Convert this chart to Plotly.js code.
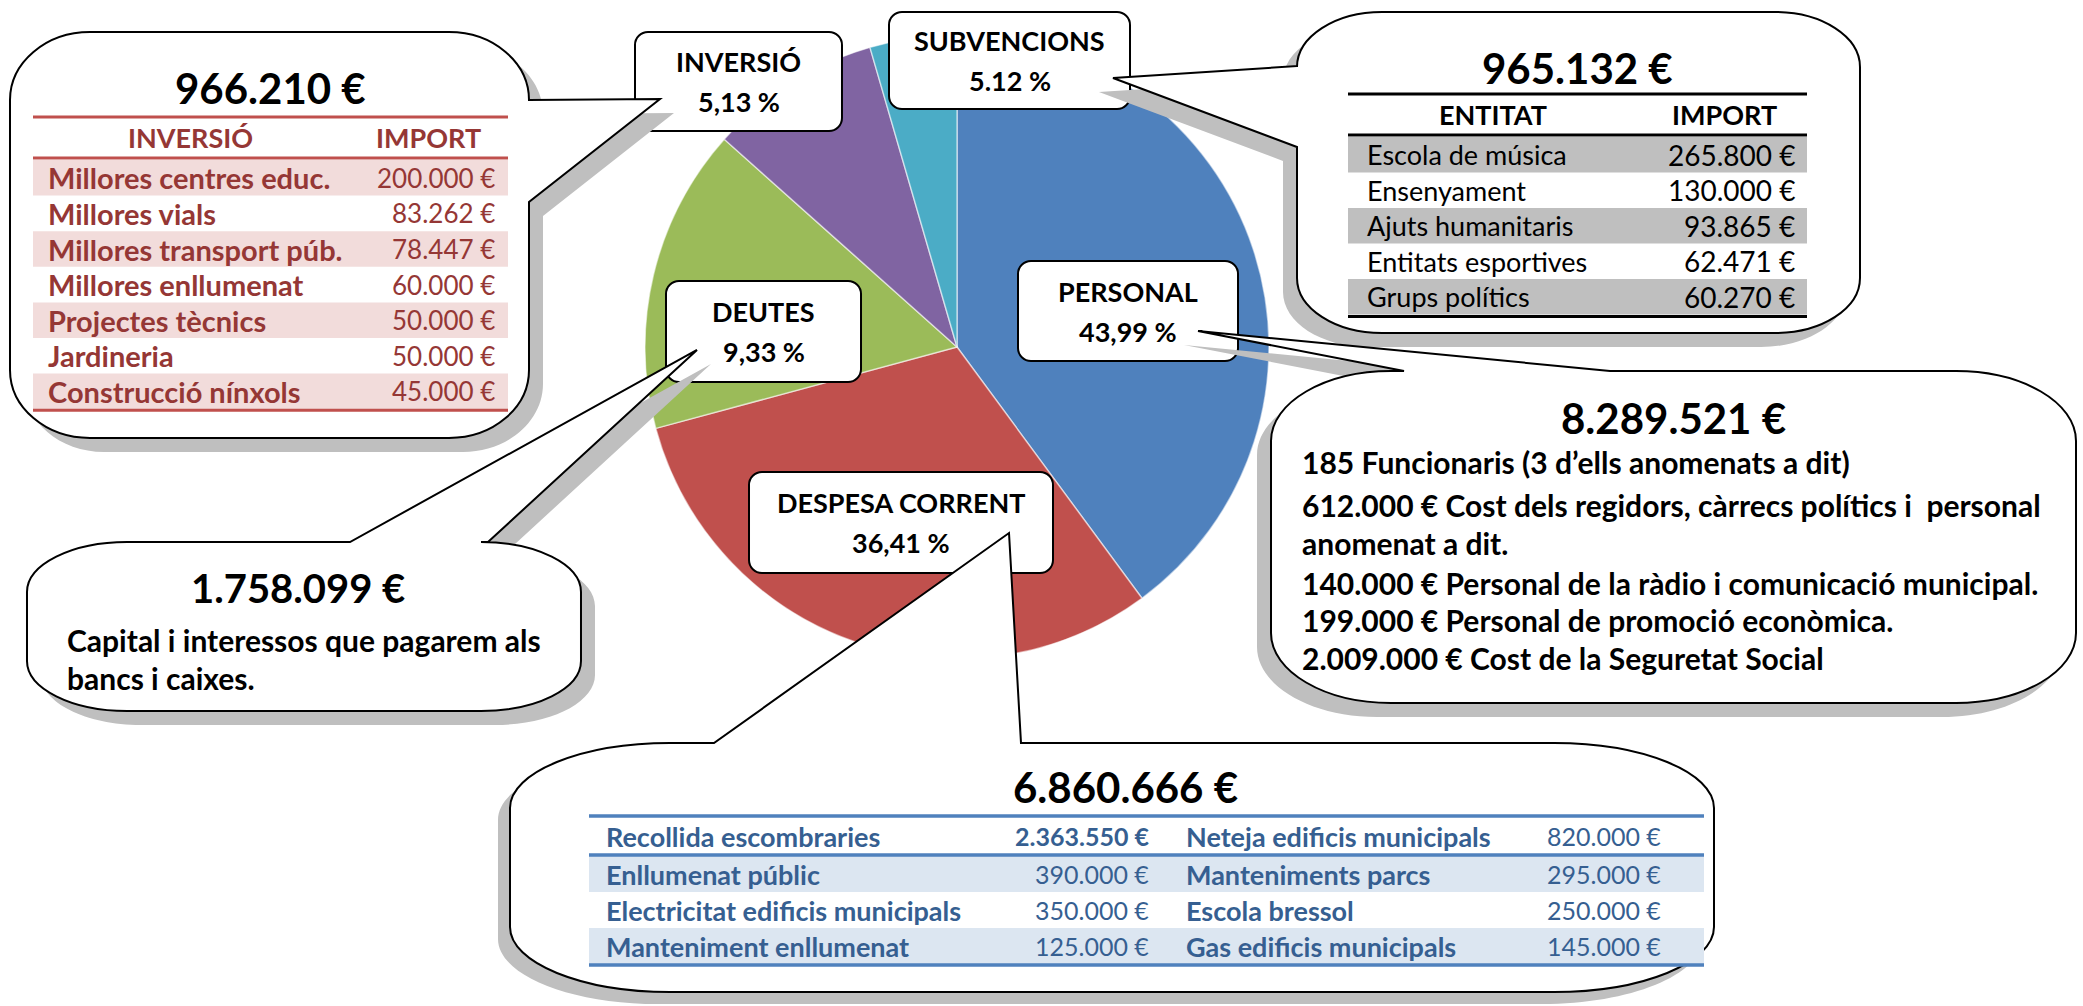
<!DOCTYPE html>
<html>
<head>
<meta charset="utf-8">
<script src="https://cdn.plot.ly/plotly-3.0.1.min.js"></script>
<style>html,body{margin:0;padding:0;background:#fff;}#chart{width:2083px;height:1006px;}</style>
</head>
<body>
<div id="chart"></div>
<script>
// ---------- DATA ----------
const categories = ['PERSONAL', 'DESPESA CORRENT', 'DEUTES', 'INVERSIÓ', 'SUBVENCIONS'];
// slice shares as drawn in the picture
const sliceShares = [39.9, 30.9, 15.8, 8.9, 4.5];
const labelPercents = ['43,99 %', '36,41 %', '9,33 %', '5,13 %', '5.12 %'];
const sliceColors = ['#4F81BD', '#C0504D', '#9BBB59', '#8064A2', '#4BACC6'];
const totals = ['8.289.521 €', '6.860.666 €', '1.758.099 €', '966.210 €', '965.132 €'];

const inversioHeader = ['INVERSIÓ', 'IMPORT'];
const inversioItems = ['Millores centres educ.', 'Millores vials', 'Millores transport púb.', 'Millores enllumenat', 'Projectes tècnics', 'Jardineria', 'Construcció nínxols'];
const inversioAmounts = ['200.000 €', '83.262 €', '78.447 €', '60.000 €', '50.000 €', '50.000 €', '45.000 €'];

const entitatHeader = ['ENTITAT', 'IMPORT'];
const entitatItems = ['Escola de música', 'Ensenyament', 'Ajuts humanitaris', 'Entitats esportives', 'Grups polítics'];
const entitatAmounts = ['265.800 €', '130.000 €', '93.865 €', '62.471 €', '60.270 €'];

const personalLines = [
  '185 Funcionaris (3 d’ells anomenats a dit)',
  '612.000 € Cost dels regidors, càrrecs polítics i  personal',
  'anomenat a dit.',
  '140.000 € Personal de la ràdio i comunicació municipal.',
  '199.000 € Personal de promoció econòmica.',
  '2.009.000 € Cost de la Seguretat Social'
];
const deutesLines = ['Capital i interessos que pagarem als', 'bancs i caixes.'];

const despesaItemsLeft = ['Recollida escombraries', 'Enllumenat públic', 'Electricitat edificis municipals', 'Manteniment enllumenat'];
const despesaAmountsLeft = ['2.363.550 €', '390.000 €', '350.000 €', '125.000 €'];
const despesaItemsRight = ['Neteja edificis municipals', 'Manteniments parcs', 'Escola bressol', 'Gas edificis municipals'];
const despesaAmountsRight = ['820.000 €', '295.000 €', '250.000 €', '145.000 €'];

// ---------- LAYOUT HELPERS ----------
const W = 2083, H = 1006;
const FONT = 'Lato, Carlito, "Open Sans", sans-serif';
const X = px => px / W;
const Y = py => 1 - py / H;
const P = (x, y) => X(x).toFixed(5) + ',' + Y(y).toFixed(5);
const K = 0.5523;

function bubblePath(b, dx, dy) {
  const x0 = b.x0 + dx, y0 = b.y0 + dy, x1 = b.x1 + dx, y1 = b.y1 + dy, rx = b.rx, ry = b.ry;
  const t = b.tail;
  const tx = t.tx + dx, ty = t.ty + dy;
  let d = 'M' + P(x0 + rx, y0);
  if (t.side === 'top') d += ' L' + P(t.a + dx, y0) + ' L' + P(tx, ty) + ' L' + P(t.b + dx, y0);
  d += ' L' + P(x1 - rx, y0);
  d += ' C' + P(x1 - rx + K * rx, y0) + ' ' + P(x1, y0 + ry - K * ry) + ' ' + P(x1, y0 + ry);
  if (t.side === 'right') d += ' L' + P(x1, t.a + dy) + ' L' + P(tx, ty) + ' L' + P(x1, t.b + dy);
  d += ' L' + P(x1, y1 - ry);
  d += ' C' + P(x1, y1 - ry + K * ry) + ' ' + P(x1 - rx + K * rx, y1) + ' ' + P(x1 - rx, y1);
  d += ' L' + P(x0 + rx, y1);
  d += ' C' + P(x0 + rx - K * rx, y1) + ' ' + P(x0, y1 - ry + K * ry) + ' ' + P(x0, y1 - ry);
  if (t.side === 'left') d += ' L' + P(x0, t.b + dy) + ' L' + P(tx, ty) + ' L' + P(x0, t.a + dy);
  d += ' L' + P(x0, y0 + ry);
  d += ' C' + P(x0, y0 + ry - K * ry) + ' ' + P(x0 + rx - K * rx, y0) + ' ' + P(x0 + rx, y0);
  return d + ' Z';
}
function roundRect(x0, y0, x1, y1, r) {
  return bubblePath({x0, y0, x1, y1, rx: r, ry: r, tail: {side: 'none', tx: 0, ty: 0}}, 0, 0);
}

const shapes = [];
const annotations = [];
function txt(text, x, y, size, color, bold, anchor) {
  annotations.push({
    text: bold ? '<b>' + text + '</b>' : text,
    x: X(x), y: Y(y), xref: 'paper', yref: 'paper',
    xanchor: anchor || 'center', yanchor: 'middle', showarrow: false,
    font: {family: FONT, size: size, color: color}
  });
}
function rect(x0, y0, x1, y1, fill) {
  shapes.push({type: 'rect', xref: 'paper', yref: 'paper', x0: X(x0), x1: X(x1), y0: Y(y1), y1: Y(y0),
    fillcolor: fill, line: {width: 0}, layer: 'above'});
}
function hline(x0, x1, y, color, w) {
  shapes.push({type: 'line', xref: 'paper', yref: 'paper', x0: X(x0), x1: X(x1), y0: Y(y), y1: Y(y),
    line: {color: color, width: w}, layer: 'above'});
}

// ---------- SMALL LABEL BOXES ----------
const labelBoxes = [
  {i: 0, x0: 1018, y0: 261, x1: 1238, y1: 361},
  {i: 1, x0: 749, y0: 472, x1: 1053, y1: 573},
  {i: 2, x0: 666, y0: 281, x1: 861, y1: 382},
  {i: 3, x0: 635, y0: 32, x1: 842, y1: 131},
  {i: 4, x0: 889, y0: 12, x1: 1130, y1: 109}
];
labelBoxes.forEach(b => {
  shapes.push({type: 'path', xref: 'paper', yref: 'paper', path: roundRect(b.x0, b.y0, b.x1, b.y1, 13),
    fillcolor: '#ffffff', line: {color: '#000000', width: 2}, layer: 'above'});
});

// ---------- BIG CALLOUTS ----------
const bubbles = [
  {x0: 10, y0: 32, x1: 529, y1: 438, rx: 80, ry: 68, sdx: 14, sdy: 14,
   tail: {side: 'right', a: 100, b: 202, tx: 660, ty: 99}},
  {x0: 1297, y0: 12, x1: 1860, y1: 333, rx: 85, ry: 55, sdx: -14, sdy: 14,
   tail: {side: 'left', a: 66, b: 147, tx: 1113, ty: 78}},
  {x0: 1271, y0: 371, x1: 2076, y1: 703, rx: 120, ry: 70, sdx: -14, sdy: 14,
   tail: {side: 'top', a: 1404, b: 1610, tx: 1198, ty: 331}},
  {x0: 27, y0: 542, x1: 581, y1: 711, rx: 100, ry: 50, sdx: 14, sdy: 14,
   tail: {side: 'top', a: 350, b: 488, tx: 697, ty: 350}},
  {x0: 510, y0: 743, x1: 1714, y1: 992, rx: 160, ry: 65, sdx: -12, sdy: 12,
   tail: {side: 'top', a: 714, b: 1021, tx: 1009, ty: 533}}
];
bubbles.forEach(b => {
  shapes.push({type: 'path', xref: 'paper', yref: 'paper', path: bubblePath(b, b.sdx, b.sdy),
    fillcolor: '#BFBFBF', line: {width: 0}, layer: 'above'});
});
bubbles.forEach(b => {
  shapes.push({type: 'path', xref: 'paper', yref: 'paper', path: bubblePath(b, 0, 0),
    fillcolor: '#ffffff', line: {color: '#000000', width: 2}, layer: 'above'});
});

// label box texts
labelBoxes.forEach(b => {
  const cx = (b.x0 + b.x1) / 2, cy = (b.y0 + b.y1) / 2;
  txt(categories[b.i], cx, cy - 20, 27, '#000000', true);
  txt(labelPercents[b.i], cx, cy + 20, 27, '#000000', true);
});

// ---------- TABLE: INVERSIÓ ----------
const invRed = '#953735';
txt(totals[3], 270, 88, 42, '#000000', true);
const invRowTop = 160, invRowH = 35.6;
inversioItems.forEach((it, i) => {
  const top = invRowTop + i * invRowH;
  if (i % 2 === 0) rect(33, top, 508, top + invRowH, '#F2DCDB');
  txt(it, 46, top + invRowH / 2, 29, invRed, true, 'left');
  txt(inversioAmounts[i], 497, top + invRowH / 2, 26, invRed, false, 'right');
});
hline(33, 508, 117, '#C0504D', 3);
hline(33, 508, 158, '#C0504D', 3);
hline(33, 508, invRowTop + 7 * invRowH + 1, '#C0504D', 3);
txt(inversioHeader[0], 190, 138, 27, invRed, true);
txt(inversioHeader[1], 428, 138, 27, invRed, true);

// ---------- TABLE: ENTITAT ----------
txt(totals[4], 1577, 68, 42, '#000000', true);
const entRowTop = 137, entRowH = 35.5;
entitatItems.forEach((it, i) => {
  const top = entRowTop + i * entRowH;
  if (i % 2 === 0) rect(1348, top, 1807, top + entRowH, '#BFBFBF');
  txt(it, 1365, top + entRowH / 2, 27, '#000000', false, 'left');
  txt(entitatAmounts[i], 1797, top + entRowH / 2, 28, '#000000', false, 'right');
});
hline(1348, 1807, 94, '#000000', 3);
hline(1348, 1807, 135, '#000000', 3);
hline(1348, 1807, entRowTop + 5 * entRowH + 2, '#000000', 3);
txt(entitatHeader[0], 1493, 115, 27, '#000000', true);
txt(entitatHeader[1], 1724, 115, 27, '#000000', true);

// ---------- PERSONAL TEXT ----------
txt(totals[0], 1673, 418, 42, '#000000', true);
const persY = [462, 505, 543, 583, 620, 658];
personalLines.forEach((l, i) => txt(l, 1300, persY[i], 30, '#000000', true, 'left'));

// ---------- DEUTES TEXT ----------
txt(totals[2], 298, 588, 40, '#000000', true);
const deutY = [640, 678];
deutesLines.forEach((l, i) => txt(l, 65, deutY[i], 30, '#000000', true, 'left'));

// ---------- TABLE: DESPESA CORRENT ----------
const blueTxt = '#365F91';
txt(totals[1], 1125, 787, 42, '#000000', true);
const despRows = [[818, 854], [856, 892], [892, 928], [928, 964]];
despRows.forEach((r, i) => {
  if (i % 2 === 1) rect(589, r[0], 1704, r[1], '#DCE6F1');
  const cy = (r[0] + r[1]) / 2;
  txt(despesaItemsLeft[i], 604, cy, 27, blueTxt, true, 'left');
  txt(despesaAmountsLeft[i], 1151, cy, 25, blueTxt, i === 0, 'right');
  txt(despesaItemsRight[i], 1184, cy, 27, blueTxt, true, 'left');
  txt(despesaAmountsRight[i], 1663, cy, 25, blueTxt, false, 'right');
});
hline(589, 1704, 816, '#4F81BD', 3.5);
hline(589, 1704, 855, '#4F81BD', 3.5);
hline(589, 1704, 965, '#4F81BD', 3.5);

// ---------- PIE ----------
const pie = {
  type: 'pie',
  labels: categories,
  values: sliceShares,
  sort: false,
  direction: 'clockwise',
  rotation: 0,
  textinfo: 'none',
  textposition: 'none',
  hoverinfo: 'label+percent',
  marker: {colors: sliceColors, line: {color: 'rgba(255,255,255,0.55)', width: 1.5}},
  domain: {x: [645 / W, 1269 / W], y: [1 - 659 / H, 1 - 35 / H]},
  showlegend: false
};

const layout = {
  width: W, height: H,
  margin: {l: 0, r: 0, t: 0, b: 0},
  paper_bgcolor: '#ffffff',
  plot_bgcolor: '#ffffff',
  showlegend: false,
  font: {family: FONT},
  shapes: shapes,
  annotations: annotations
};

Plotly.newPlot('chart', [pie], layout, {displayModeBar: false, staticPlot: true});
</script>
</body>
</html>
